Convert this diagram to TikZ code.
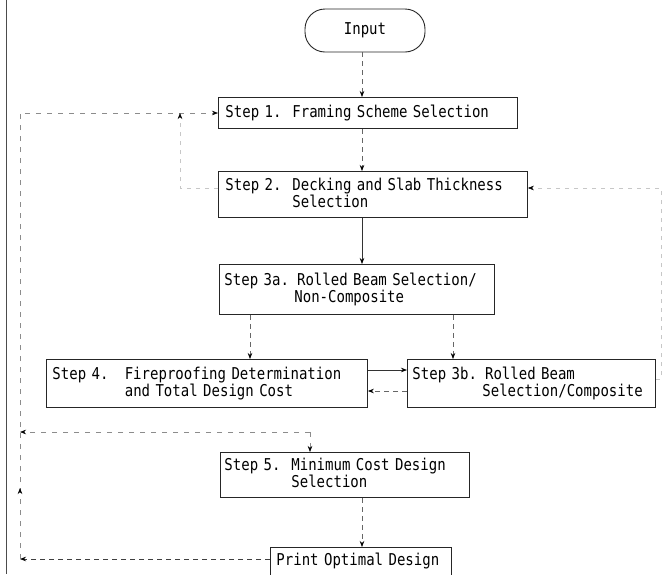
\documentclass[tikz,border=0pt]{standalone}
\usepackage{fontspec}
\newfontfamily\monofont[FakeStretch=0.86]{DejaVu Sans Mono}
\usetikzlibrary{arrows.meta,calc,decorations.markings}
\tikzset{
  txtfont/.style={font=\monofont\fontsize{16.3}{17}\selectfont},
  box/.style={draw=black!85, line width=0.9pt, inner ysep=0pt, anchor=north west,
    txtfont, align=left},
  tip/.style={-{Stealth[length=6pt,width=4.5pt,black]}},
  flowa/.style={tip, draw=black!60, line width=0.7pt, dash pattern=on 5pt off 4pt},
  flows/.style={tip, draw=black!80, line width=0.7pt},
  loopline/.style={tip, draw=black!45, line width=0.6pt, dash pattern=on 5pt off 6pt},
  faint/.style={tip, draw=black!22, line width=0.5pt, dash pattern=on 4pt off 5pt},
  uparrow/.style={postaction={decorate}, decoration={markings,
    mark=at position 71pt with {\arrow{Stealth[length=6pt,width=4.5pt,black]}}}}
}
\begin{document}
\begin{tikzpicture}[x=1pt,y=-1pt]
\useasboundingbox (0,0) rectangle (665,574);

% page border line on the left
\coordinate (bt) at (6,0);
\coordinate (bb) at (6,574);
\draw[black!70, line width=0.9pt] (bt) -- (bb);

% nodes
\node[draw=black!85, line width=0.9pt, rounded corners=20pt, minimum width=120pt,
      minimum height=43pt, txtfont] (in) at (365,30.5) {Input};

\node[box, inner xsep=7pt, text width=285pt, minimum height=31pt] (s1) at (218,97)
  {Step 1.~~Framing Scheme Selection};

\node[box, inner xsep=7pt, text width=295pt, minimum height=46pt] (s2) at (218,171)
  {Step 2.~~Decking and Slab Thickness\\\phantom{Step 2.~~}Selection};

\node[box, inner xsep=5pt, text width=265pt, minimum height=50pt] (s3a) at (219,264)
  {Step 3a. Rolled Beam Selection/\\\phantom{Step 3a.~}Non-Composite};

\node[box, inner xsep=6pt, text width=309pt, minimum height=48pt] (s4) at (46,359)
  {Step 4.~~~Fireproofing Determination\\\phantom{Step 4.~~~}and Total Design Cost};

\node[box, inner xsep=5pt, text width=238pt, minimum height=48pt] (s3b) at (407,359)
  {Step 3b. Rolled Beam\\\phantom{Step 3b.~}Selection/Composite};

\node[box, inner xsep=4pt, text width=241pt, minimum height=45pt] (s5) at (220,452)
  {Step 5.~~Minimum Cost Design\\\phantom{Step 5.~~}Selection};

\node[box, inner xsep=6pt, text width=169pt, minimum height=28pt] (pr) at (270,547)
  {Print Optimal Design};

% helper coordinates
\coordinate (cx) at (362,0);
\coordinate (c4) at (250,0);
\coordinate (c3b) at (453,0);
\coordinate (lx) at (20,0);
\coordinate (bx) at (180,0);
\coordinate (rx) at (661,0);
\coordinate (r0) at (0,113);
\coordinate (r1) at (0,370);
\coordinate (r2) at (0,391);
\coordinate (r3) at (0,559);
\coordinate (r4) at (0,188);
\coordinate (r5) at (0,379);
\coordinate (j5) at (310,432);

% main flow
\draw[flowa] (in.south -| cx) -- (s1.north -| cx);
\draw[flowa] (s1.south -| cx) -- (s2.north -| cx);
\draw[flows] (s2.south -| cx) -- (s3a.north -| cx);
\draw[flowa] (s3a.south -| c4) -- (s4.north -| c4);
\draw[flowa] (s3a.south -| c3b) -- (s3b.north -| c3b);
\draw[flows] (s4.east |- r1) -- (s3b.west |- r1);
\draw[flowa] (s3b.west |- r2) -- (s4.east |- r2);
\draw[flowa] (s5.south -| cx) -- (pr.north -| cx);
\draw[loopline] (j5) -- (s5.north -| j5);
\draw[loopline] (j5) -- (j5 -| lx);

% loop back from print to step 1
\draw[flowa, draw=black!75] (pr.west |- r3) -- (r3 -| lx);
\draw[loopline, uparrow] (r3 -| lx) -- (r0 -| lx) -- (s1.west |- r0);

% faded loops
\draw[faint] (s2.west |- r4) -- (r4 -| bx) -- (r0 -| bx);
\draw[faint] (s3b.east |- r5) -- (r5 -| rx) -- (r4 -| rx) -- (s2.east |- r4);
\end{tikzpicture}
\end{document}
